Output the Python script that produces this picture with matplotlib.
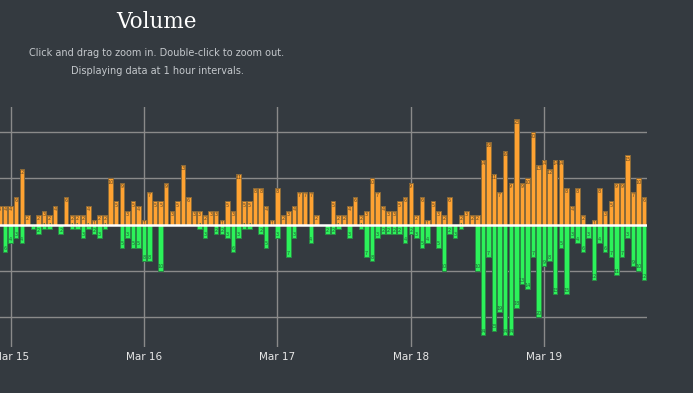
import matplotlib
matplotlib.use("Agg")
import matplotlib.pyplot as plt
import numpy as np
import pandas as pd

# hourly volume, starting Mar 14 22:00
start = "2024-03-14 22:00"
buy = [4, 4, 4, 6, 12, 2, 0, 2, 3, 2, 4, 0, 6, 2, 2, 2, 4, 1, 2, 2, 10, 5, 9, 3, 5, 4, 1, 7, 5, 5, 9, 3, 5,
       13, 6, 3, 3, 2, 3, 3, 1, 5, 3, 11, 5, 5, 8, 8, 4, 1, 8, 2, 3, 4, 7, 7, 7, 2, 0, 0, 5, 2, 2, 4,
       6, 2, 3, 10, 7, 4, 3, 3, 5, 6, 9, 2, 6, 1, 5, 3, 2, 6, 0, 2, 3, 2, 2,
       14, 18, 11, 7, 16, 9, 23, 9, 10, 20, 13, 14, 12, 14, 14, 8, 4, 8, 2, 0, 1, 8, 3, 5, 9, 9, 15, 7, 10, 6]
sell = [0, 6, 4, 3, 4, 0, 1, 2, 1, 1, 0, 2, 0, 1, 1, 3, 1, 2, 3, 1, 0, 0, 5, 3, 5, 5, 8, 8, 0, 10, 0, 0, 0,
        0, 0, 0, 1, 3, 0, 2, 2, 3, 6, 3, 1, 1, 0, 2, 5, 0, 3, 0, 7, 3, 0, 0, 4, 0, 0, 2, 2, 1, 0, 3,
        0, 1, 7, 8, 3, 2, 2, 2, 2, 4, 2, 3, 5, 4, 0, 5, 10, 2, 3, 1, 0, 0, 10,
        24, 7, 23, 19, 24, 24, 18, 13, 14, 7, 20, 9, 8, 15, 5, 15, 3, 4, 6, 3, 12, 4, 6, 7, 11, 7, 3, 9, 10, 12]
tick_days = ["2024-03-15", "2024-03-16", "2024-03-17", "2024-03-18", "2024-03-19"]
tick_labels = ["Mar 15", "Mar 16", "Mar 17", "Mar 18", "Mar 19"]

times = pd.date_range(start, periods=len(buy), freq="h")
buy = np.array(buy)
sell = -np.array(sell)

bg = "#343a40"
fig = plt.figure(figsize=(6.93, 3.93), dpi=100, facecolor=bg)
ax = fig.add_axes([0, 1 - 346.7 / 393, 647 / 693, (346.7 - 107) / 393])
ax.set_facecolor(bg)

w = 0.8 / 24
ax.bar(times, buy, width=w, color="#ffa232", edgecolor="#8a6a3a", linewidth=0.7, zorder=2)
ax.bar(times, sell, width=w, color="#2cf25a", edgecolor="#2a8a45", linewidth=0.7, zorder=2)

# tiny value labels inside the bars
for t, b, s in zip(times, buy, sell):
    if b > 0:
        ax.text(t, b - 0.25, str(b), ha="center", va="top", fontsize=3.5,
                color="#5e4828", zorder=3)
    if s < 0:
        ax.text(t, s + 0.25, str(-s), ha="center", va="bottom", fontsize=3.5,
                color="#22603a", zorder=3)

ax.axhline(0, color="white", lw=1.8, zorder=4)

x0 = pd.Timestamp("2024-03-15") - pd.Timedelta(hours=10.7 / 5.556)
x1 = pd.Timestamp("2024-03-15") + pd.Timedelta(hours=(647 - 10.7) / 5.556)
ax.set_xlim(x0, x1)
ax.set_ylim(-26.5, 25.5)

ax.set_yticks([-20, -10, 10, 20])
ax.set_xticks(pd.to_datetime(tick_days))
ax.set_xticklabels(tick_labels)
ax.grid(True, color="#8a8a8a", lw=1, zorder=0)
ax.set_axisbelow(True)
ax.tick_params(axis="y", left=False, labelleft=False)
ax.tick_params(axis="x", length=0, pad=4, labelsize=7.5, labelcolor="#e8e8e8")
for sp in ax.spines.values():
    sp.set_visible(False)

fig.text(157 / 693, 1 - 22 / 393, "Volume", ha="center", va="center",
         family="DejaVu Serif", fontsize=15.5, color="white")
fig.text(157 / 693, 1 - 53 / 393, "Click and drag to zoom in. Double-click to zoom out.",
         ha="center", va="center", fontsize=7, color="#c4c8cc")
fig.text(157 / 693, 1 - 71 / 393, "Displaying data at 1 hour intervals.",
         ha="center", va="center", fontsize=7, color="#c4c8cc")

fig.savefig("out.png", dpi=100, facecolor=bg)
